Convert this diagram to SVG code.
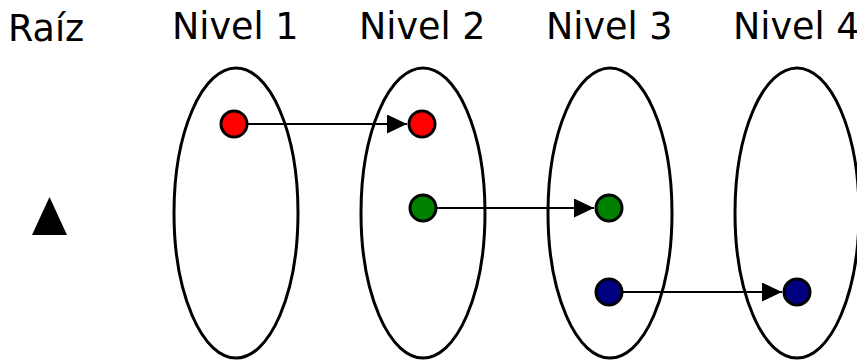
<svg xmlns="http://www.w3.org/2000/svg" width="857" height="360" viewBox="0 0 857 360">
<style>
text{font-family:"DejaVu Sans",sans-serif;font-size:36.5px;fill:#000}
.lvl{fill:none;stroke:#000;stroke-width:3}
.n{stroke:#000;stroke-width:3}
.c{stroke:#000;stroke-width:2.2;fill:none;marker-end:url(#ah)}
</style>
<defs>
<marker id="ah" markerUnits="userSpaceOnUse" markerWidth="21" markerHeight="19" refX="20" refY="9.5" orient="auto">
<path d="M0,0 L20,9.5 L0,19 Z" fill="#000"/>
</marker>
</defs>
<rect width="857" height="360" fill="#fff"/>
<text x="8" y="41">Raíz</text>
<text x="172" y="39">Nivel 1</text>
<text x="359" y="39">Nivel 2</text>
<text x="546" y="39">Nivel 3</text>
<text x="733" y="39">Nivel 4</text>
<g id="raiz"><path d="M32,235 L67,235 L49.5,197 Z" fill="#000"/></g>
<g id="nivel1"><ellipse class="lvl" cx="236" cy="213" rx="62" ry="145"/></g>
<g id="nivel2"><ellipse class="lvl" cx="423" cy="213" rx="62" ry="145"/></g>
<g id="nivel3"><ellipse class="lvl" cx="610" cy="213" rx="62" ry="145"/></g>
<g id="nivel4"><ellipse class="lvl" cx="797" cy="213" rx="62" ry="145"/></g>
<g id="connectors">
<line class="c" x1="248" y1="124" x2="407" y2="124"/>
<line class="c" x1="437" y1="208" x2="594" y2="208"/>
<line class="c" x1="623" y1="292" x2="782" y2="292"/>
</g>
<g id="r1"><circle class="n" cx="234" cy="124" r="13" fill="#ff0000"/></g>
<g id="r2"><circle class="n" cx="422" cy="124" r="13" fill="#ff0000"/></g>
<g id="g2"><circle class="n" cx="423" cy="208" r="13" fill="#008000"/></g>
<g id="g3"><circle class="n" cx="609" cy="208" r="13" fill="#008000"/></g>
<g id="b3"><circle class="n" cx="609" cy="292" r="13" fill="#000080"/></g>
<g id="b4"><circle class="n" cx="797" cy="292" r="13" fill="#000080"/></g>
</svg>
